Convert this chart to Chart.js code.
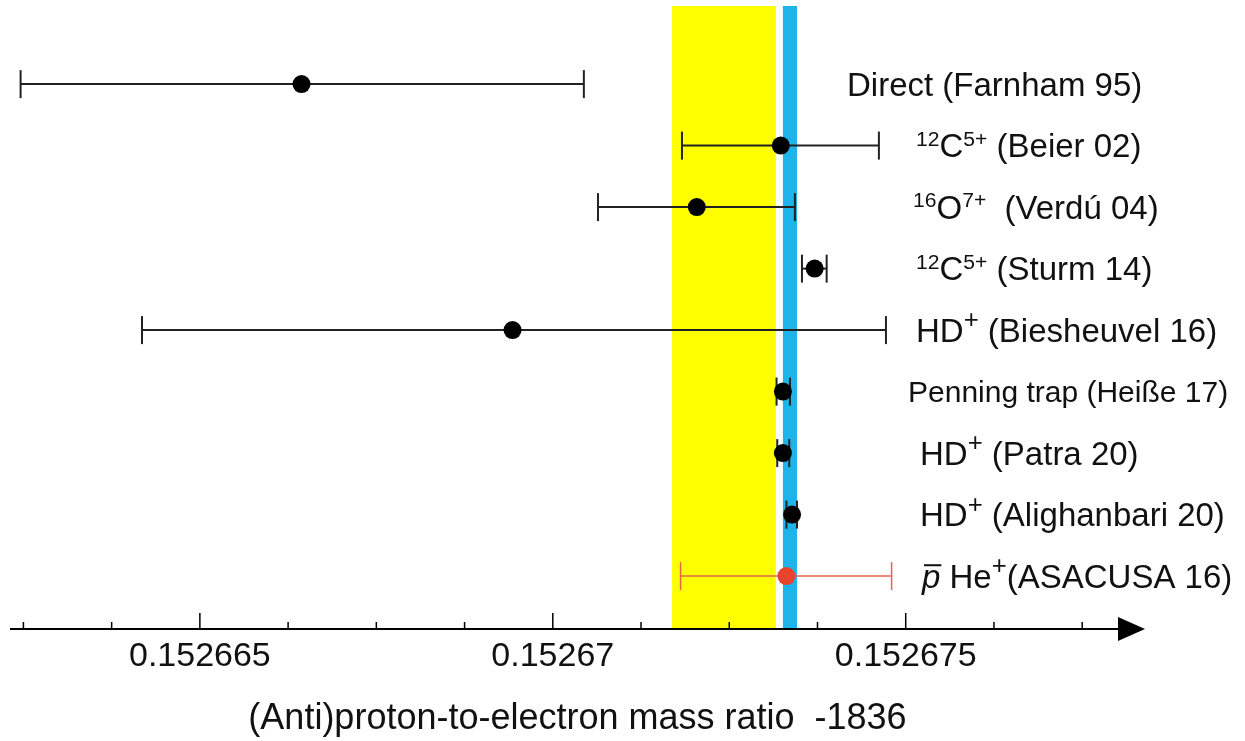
<!DOCTYPE html>
<html>
<head>
<meta charset="utf-8">
<script src="https://cdn.jsdelivr.net/npm/chart.js@4.4.1/dist/chart.umd.min.js"></script>
<style>
  html, body { margin: 0; padding: 0; background: #fff; }
  #wrap { width: 1245px; height: 741px; }
</style>
</head>
<body>
<div id="wrap"><canvas id="chart"></canvas></div>
<script>
// measurements, top row first. ^{..} = superscript, ~{..} = italic with bar
const studies = [
  'Direct (Farnham 95)',
  '^{12}C^{5+} (Beier 02)',
  '^{16}O^{7+}  (Verdú 04)',
  '^{12}C^{5+} (Sturm 14)',
  'HD^{+} (Biesheuvel 16)',
  'Penning trap (Heiße 17)',
  'HD^{+} (Patra 20)',
  'HD^{+} (Alighanbari 20)',
  '~{p} He^{+}(ASACUSA 16)'
];
const centers = [0.15266644, 0.15267323, 0.15267204, 0.15267371, 0.15266943, 0.15267326, 0.15267326, 0.15267339, 0.15267331];
const lower   = [0.15266246, 0.15267183, 0.15267064, 0.15267353, 0.15266418, 0.15267317, 0.15267318, 0.15267331, 0.15267181];
const upper   = [0.15267044, 0.15267462, 0.15267343, 0.15267388, 0.15267472, 0.15267336, 0.15267335, 0.15267346, 0.15267480];
const isAntiproton = [false, false, false, false, false, false, false, false, true];

const yellowBand = [0.15267169, 0.15267316];
const blueBand = [0.15267326, 0.15267346];

const tickValues = [0.152665, 0.15267, 0.152675];
const tickLabels = ['0.152665', '0.15267', '0.152675'];
const minorStep = 0.00000125;

const FAMILY = '"Liberation Sans", Arial, Helvetica, sans-serif';
Chart.defaults.font.family = FAMILY;
Chart.defaults.color = '#111';

const BLACK = '#222';
const RED_BAR = '#e4664a';
const RED_DOT = '#e8432d';

const rows = studies.map((s, i) => i);

// one dataset per error bar so the lines don't join up
const barSets = rows.map(i => ({
  type: 'scatter',
  data: [{ x: lower[i], y: i }, { x: upper[i], y: i }],
  showLine: true,
  borderColor: isAntiproton[i] ? RED_BAR : BLACK,
  borderWidth: isAntiproton[i] ? 1.5 : 2,
  pointStyle: 'line',
  pointRotation: 90,
  pointRadius: 14,
  pointHoverRadius: 14,
  pointBorderColor: isAntiproton[i] ? RED_BAR : BLACK,
  pointBorderWidth: isAntiproton[i] ? 1.5 : 2,
  clip: false,
  order: 1
}));

const dotSet = {
  type: 'scatter',
  data: rows.map(i => ({ x: centers[i], y: i })),
  pointRadius: 9,
  pointHoverRadius: 9,
  pointBackgroundColor: rows.map(i => isAntiproton[i] ? RED_DOT : '#000'),
  pointBorderWidth: 0,
  clip: false,
  order: 0
};

const bandPlugin = {
  id: 'bands',
  beforeDatasetsDraw(chart) {
    const { ctx, chartArea: a, scales: { x } } = chart;
    ctx.save();
    ctx.fillStyle = '#ffff00';
    const y0 = x.getPixelForValue(yellowBand[0]), y1 = x.getPixelForValue(yellowBand[1]);
    ctx.fillRect(y0, a.top, y1 - y0, a.bottom - a.top);
    ctx.fillStyle = '#1cb4ea';
    const b0 = x.getPixelForValue(blueBand[0]), b1 = x.getPixelForValue(blueBand[1]);
    ctx.fillRect(b0, a.top, b1 - b0, a.bottom - a.top);
    ctx.restore();
  }
};

// axis line with arrow and upward ticks
const axisPlugin = {
  id: 'arrowAxis',
  afterDatasetsDraw(chart) {
    const { ctx, chartArea: a, scales: { x } } = chart;
    const y = a.bottom;
    ctx.save();
    ctx.strokeStyle = '#000';
    ctx.fillStyle = '#000';
    ctx.lineWidth = 2;
    ctx.beginPath();
    ctx.moveTo(a.left, y);
    ctx.lineTo(a.right - 20, y);
    ctx.stroke();
    ctx.beginPath();
    ctx.moveTo(a.right, y);
    ctx.lineTo(a.right - 27, y - 12);
    ctx.lineTo(a.right - 27, y + 12);
    ctx.closePath();
    ctx.fill();
    ctx.lineWidth = 1.5;
    const kMin = Math.ceil((x.min - tickValues[0]) / minorStep);
    const kMax = Math.floor((x.max - tickValues[0]) / minorStep);
    for (let k = kMin; k <= kMax; k++) {
      const px = x.getPixelForValue(tickValues[0] + k * minorStep);
      if (px > a.right - 30) continue;
      const len = k % 4 === 0 ? 16 : 7;
      ctx.beginPath();
      ctx.moveTo(px, y);
      ctx.lineTo(px, y - len);
      ctx.stroke();
    }
    ctx.restore();
  }
};

// study names to the right of the bars
const labelIndent = [-69, 0, -3, 0, 0, -8, 4, 4, 6];
const labelSize = [33, 33, 33, 33, 33, 30, 33, 33, 33];

function drawRich(ctx, text, x, yMid, size) {
  const base = yMid + size * 0.36;
  const re = /\^\{([^}]*)\}|~\{([^}]*)\}|[^^~]+/g;
  let m;
  while ((m = re.exec(text)) !== null) {
    if (m[1] !== undefined) {
      const plus = m[1] === '+';
      const s = size * (plus ? 0.78 : 0.64);
      ctx.font = s + 'px ' + FAMILY;
      ctx.fillText(m[1], x, base - size * (plus ? 0.42 : 0.36));
      x += ctx.measureText(m[1]).width;
    } else if (m[2] !== undefined) {
      ctx.font = 'italic ' + size + 'px ' + FAMILY;
      ctx.fillText(m[2], x, base);
      const w = ctx.measureText(m[2]).width;
      ctx.fillRect(x + 2, base - size * 0.72, w - 1, 2);
      x += w;
    } else {
      ctx.font = size + 'px ' + FAMILY;
      ctx.fillText(m[0], x, base);
      x += ctx.measureText(m[0]).width;
    }
  }
}

const labelPlugin = {
  id: 'studyLabels',
  afterDraw(chart) {
    const { ctx, chartArea: a, scales: { y } } = chart;
    ctx.save();
    ctx.fillStyle = '#111';
    ctx.textBaseline = 'alphabetic';
    ctx.textAlign = 'left';
    studies.forEach((s, i) => {
      drawRich(ctx, s, a.right - 229 + labelIndent[i], y.getPixelForValue(i), labelSize[i]);
    });
    ctx.restore();
  }
};

new Chart(document.getElementById('chart'), {
  type: 'scatter',
  data: { datasets: [dotSet, ...barSets] },
  options: {
    responsive: true,
    maintainAspectRatio: false,
    animation: false,
    events: [],
    layout: { autoPadding: false, padding: { left: 10, right: 100, top: 6, bottom: 0 } },
    plugins: { legend: { display: false }, tooltip: { enabled: false } },
    scales: {
      x: {
        type: 'linear',
        min: 0.15266231,
        max: 0.15267839,
        afterBuildTicks: s => { s.ticks = tickValues.map(v => ({ value: v })); },
        ticks: {
          callback: (v, i) => tickLabels[i],
          font: { size: 34 },
          color: '#111',
          padding: 7,
          maxRotation: 0,
          autoSkip: false
        },
        grid: { display: false, drawTicks: false },
        border: { display: false },
        title: {
          display: true,
          text: '(Anti)proton-to-electron mass ratio  -1836',
          font: { size: 36 },
          color: '#111',
          padding: { top: 14, bottom: 0 }
        }
      },
      y: {
        type: 'linear',
        min: -1.27,
        max: 8.86,
        reverse: true,
        display: false
      }
    }
  },
  plugins: [bandPlugin, axisPlugin, labelPlugin]
});
</script>
</body>
</html>
